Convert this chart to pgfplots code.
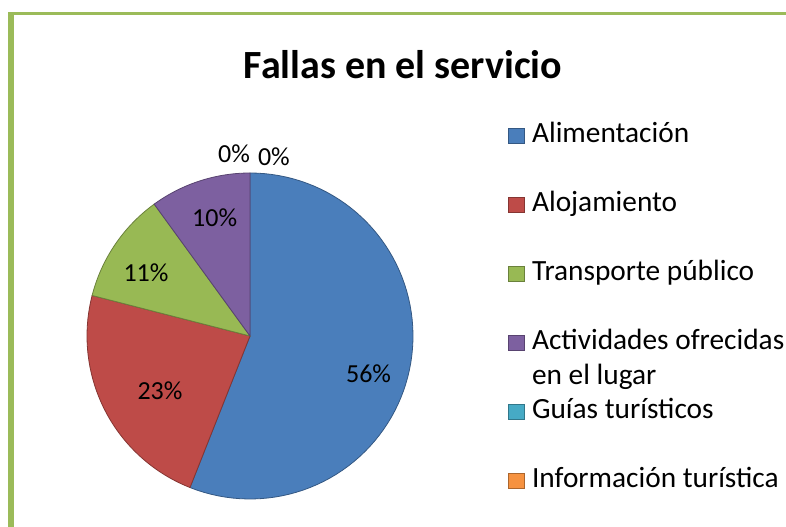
\documentclass[border=0pt]{standalone}
\usepackage{fontspec}
\setmainfont{Carlito}
\usepackage{pgfplots}
\pgfplotsset{compat=1.18}
\usepgfplotslibrary{polar}

\definecolor{cA}{HTML}{4A7EBB}
\definecolor{cB}{HTML}{BE4B48}
\definecolor{cC}{HTML}{98B954}
\definecolor{cD}{HTML}{7D60A0}
\definecolor{cE}{HTML}{46AAC5}
\definecolor{cF}{HTML}{F69240}
\definecolor{frame}{HTML}{9BBB59}

% shares in percent
\def\vA{56}\def\vB{23}\def\vC{11}\def\vD{10}\def\vE{0}\def\vF{0}
\pgfmathsetmacro\aA{90}
\pgfmathsetmacro\aB{\aA-3.6*\vA}
\pgfmathsetmacro\aC{\aB-3.6*\vB}
\pgfmathsetmacro\aD{\aC-3.6*\vC}
\pgfmathsetmacro\aE{\aD-3.6*\vD}

\begin{document}
\begin{tikzpicture}[x=0.75pt, y=0.75pt]
\path[use as bounding box] (0,0) rectangle (786,527);
\fill[frame] (8,0) rectangle (14,515);
\fill[frame] (8,512) rectangle (786,515);

\node[font=\bfseries\fontsize{30}{36}\selectfont, anchor=base] at (403,448) {Fallas en el servicio};

\begin{polaraxis}[
  at={(187.5pt,143.25pt)}, anchor=origin,
  width=244.5pt, height=244.5pt, scale only axis,
  xmin=0, xmax=360, ymin=0, ymax=1,
  hide axis, clip=false,
  legend image code/.code={\fill[#1] (0pt,-1pt) rectangle (12pt,10.5pt);},
  legend style={
    at={(1.2914,1.1564)}, anchor=north west,
    draw=none, fill=none, inner sep=0pt, row sep=32.75pt, column sep=5.25pt,
    nodes={inner sep=0pt, anchor=base west, text height=15pt, text depth=4pt},
    font=\fontsize{22}{26.4}\selectfont,
  },
  legend cell align=left,
]
\addplot[fill=cA, draw=cA!70!black, line width=0.6pt, domain=\aB:\aA, samples=80] {1} -- (axis cs:0,0) -- cycle;
\addlegendentry{Alimentación}
\addplot[fill=cB, draw=cB!70!black, line width=0.6pt, domain=\aC:\aB, samples=40] {1} -- (axis cs:0,0) -- cycle;
\addlegendentry{Alojamiento}
\addplot[fill=cC, draw=cC!70!black, line width=0.6pt, domain=\aD:\aC, samples=30] {1} -- (axis cs:0,0) -- cycle;
\addlegendentry{Transporte público}
\addplot[fill=cD, draw=cD!70!black, line width=0.6pt, domain=\aE:\aD, samples=30] {1} -- (axis cs:0,0) -- cycle;
\addlegendentry{\smash{\vtop{\hbox{Actividades ofrecidas}\hbox{en el lugar}}}}
\addlegendimage{fill=cE, draw=cE!70!black}
\addlegendentry{Guías turísticos}
\addlegendimage{fill=cF, draw=cF!70!black}
\addlegendentry{Información turística}

\begin{scope}[every node/.style={font=\fontsize{19.5}{23}\selectfont, anchor=center}]
\node at (axis cs:-17.6,0.763) {\vA\%};
\node at (axis cs:211.4,0.647) {\vB\%};
\node at (axis cs:148.8,0.746) {\vC\%};
\node at (axis cs:106.6,0.76) {\vD\%};
\node at (axis cs:95,1.12) {\vE\%};
\node at (axis cs:82.4,1.108) {\vF\%};
\end{scope}
\end{polaraxis}
\end{tikzpicture}
\end{document}
